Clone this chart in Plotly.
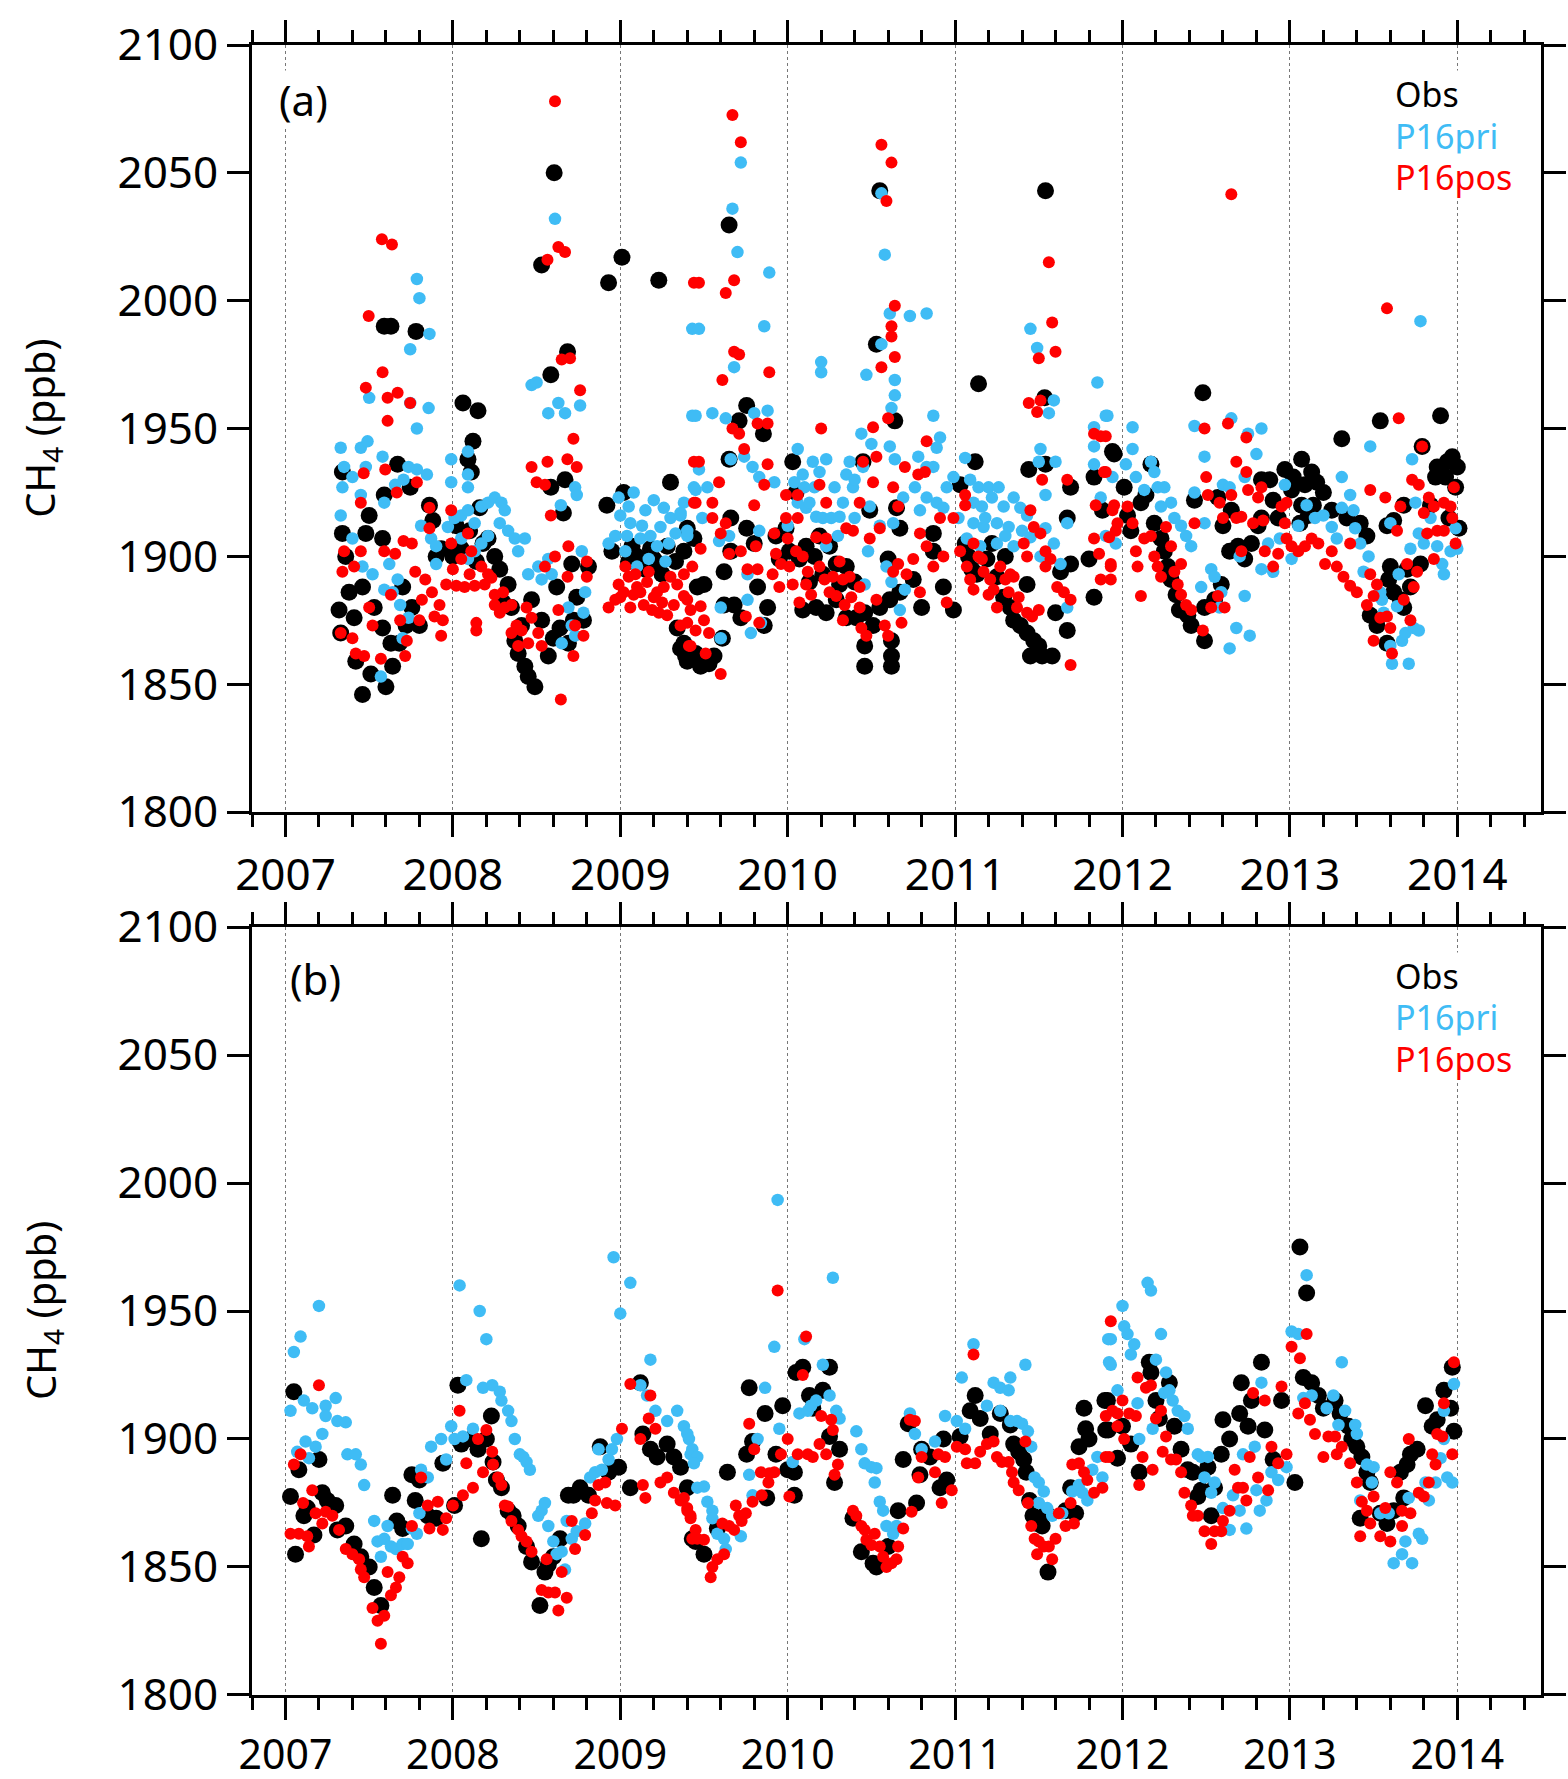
import plotly.graph_objects as go

# ---------------- Panel (a) data: (decimal year, CH4 ppb) ----------------
OBS_A = [
(2007.34,1933),(2007.34,1909),(2007.32,1879),(2007.33,1870),(2007.41,1876),(2007.46,1888),(2007.50,1916),(2007.48,1909),
(2007.46,1846),(2007.51,1854),(2007.60,1849),(2007.58,1872),(2007.64,1857),(2007.63,1866),(2007.42,1859),(2007.59,1990),
(2007.63,1990),(2007.78,1988),(2007.67,1936),(2007.59,1924),(2007.58,1907),(2007.745,1927),(2007.86,1920),(2007.88,1914),
(2007.80,1873),(2007.755,1880),(2007.70,1888),(2007.36,1900),(2007.38,1886),(2007.53,1880),(2007.68,1866),(2007.72,1873),
(2007.90,1900),(2008.06,1960),(2008.15,1957),(2008.12,1945),(2008.09,1938),(2008.11,1933),(2008.16,1919),(2007.93,1903),
(2008.00,1900),(2008.05,1903),(2008.21,1907),(2008.25,1900),(2008.28,1895),(2008.33,1889),(2008.35,1880),(2008.37,1867),
(2008.39,1862),(2008.43,1857),(2008.45,1853),(2008.49,1849),(2008.47,1883),(2008.53,1875),(2008.57,1861),(2008.53,2014),
(2008.605,2050),(2008.585,1971),(2008.685,1980),(2008.67,1930),(2008.585,1927),(2008.66,1917),(2008.71,1897),(2008.74,1884),
(2008.78,1875),(2008.62,1888),(2008.81,1896),(2008.93,2007),(2009.01,2017),(2009.23,2008),(2008.92,1920),(2009.02,1925),
(2008.95,1902),(2009.30,1929),(2009.40,1911),(2009.34,1872),(2009.36,1864),(2009.39,1861),(2009.10,1900),(2009.20,1899),
(2009.28,1904),(2009.38,1902),(2008.10,1910),(2008.14,1898),(2008.18,1905),(2008.02,1912),(2008.30,1882),(2008.41,1873),
(2008.60,1868),(2008.64,1872),(2008.69,1866),(2008.72,1875),(2009.05,1898),(2009.15,1895),(2009.25,1893),(2009.33,1898),
(2009.07,1904),(2009.13,1897),(2009.18,1903),(2009.23,1897),
(2009.65,2029.6),(2010.55,2043),(2011.54,2043),(2011.14,1967.5),(2010.53,1983),(2010.64,1953),(2009.755,1959),(2009.71,1953),
(2009.855,1948),(2009.65,1938),(2010.03,1937),(2010.45,1937),(2011.12,1937),(2011.54,1936),(2011.535,1962),(2011.44,1934),
(2011.94,1941),(2011.83,1931),(2011.69,1927),(2011.67,1915),(2011.69,1897),(2011.67,1871),(2011.83,1884),(2011.80,1899),
(2011.88,1918),(2009.44,1907),(2009.50,1889),(2009.62,1894),(2009.66,1902),(2009.46,1888),(2009.62,1881),(2009.68,1881),
(2009.72,1876),(2009.86,1873),(2009.88,1880),(2009.82,1888),(2009.38,1866),(2009.45,1862),(2009.48,1857),(2009.53,1858),
(2009.61,1868),(2009.56,1861),(2009.40,1859),(2009.66,1915),(2009.755,1911),(2009.80,1905),(2009.99,1911),(2009.93,1908),
(2010.01,1902),(2009.95,1899),(2010.07,1899),(2010.11,1904),(2010.19,1908),(2010.25,1904),(2010.29,1897),(2010.35,1896),
(2010.09,1879),(2010.17,1880),(2010.23,1878),(2010.29,1883),(2010.35,1876),(2010.41,1876),(2010.46,1878),(2010.55,1880),
(2010.61,1883),(2010.67,1886),(2010.46,1865),(2010.46,1857),(2010.62,1867),(2010.62,1861),(2010.62,1857),(2010.51,1873),
(2010.60,1899),(2010.65,1919),(2010.67,1911),(2010.75,1891),(2010.87,1909),(2010.93,1888),(2010.99,1879),(2011.03,1928),
(2010.49,1918),(2010.87,1902),(2010.13,1890),(2010.40,1890),(2010.80,1880),(2011.33,1880),(2011.35,1875),(2011.39,1873),
(2011.43,1870),(2011.47,1867),(2011.49,1862),(2011.52,1861),(2011.58,1861),(2011.45,1861),(2011.50,1865),(2011.29,1884),
(2011.25,1892),(2011.19,1899),(2011.43,1889),(2011.63,1894),(2011.06,1905),(2011.10,1895),(2011.30,1900),(2011.60,1878),
(2010.05,1925),(2010.16,1900),(2010.21,1893),(2010.31,1889),(2011.08,1900),(2011.13,1893),(2011.22,1905),
(2012.48,1964),(2013.54,1953),(2013.90,1955),(2013.31,1946),(2013.79,1943),(2011.95,1940),(2012.01,1927),(2012.17,1936),
(2012.43,1922),(2012.83,1930),(2012.88,1930),(2012.97,1934),(2013.07,1938),(2013.13,1933),(2013.09,1928),(2013.01,1926),
(2013.16,1929),(2013.07,1920),(2013.14,1920),(2013.06,1913),(2013.11,1916),(2012.93,1915),(2012.03,1916),(2012.11,1921),
(2012.19,1913),(2012.23,1907),(2012.25,1902),(2012.27,1896),(2012.29,1891),(2012.32,1885),(2012.34,1879),(2012.39,1877),
(2012.41,1873),(2012.49,1867),(2012.49,1880),(2012.55,1883),(2012.59,1889),(2012.60,1912),(2012.64,1902),(2012.69,1904),
(2012.73,1899),(2012.77,1905),(2012.81,1912),(2012.57,1923),(2012.65,1918),(2012.83,1915),(2013.34,1915),(2013.42,1913),
(2013.46,1908),(2013.58,1912),(2013.62,1914),(2013.68,1920),(2013.60,1896),(2013.59,1891),(2013.62,1886),(2013.66,1883),
(2013.68,1880),(2013.48,1877),(2013.52,1873),(2013.58,1866),(2013.78,1897),(2013.87,1931),(2013.88,1935),(2013.94,1937),
(2013.97,1939),(2014.00,1935),(2013.93,1931),(2013.99,1927),(2014.01,1911),(2013.72,1888),(2013.20,1925),(2013.25,1918),
(2012.05,1910),(2012.14,1924),(2012.90,1922),(2013.02,1931),(2013.84,1920),(2013.95,1915),(2013.70,1895),
]

PRI_A = [
(2007.33,1942.5),(2007.34,1927),(2007.33,1916),(2007.35,1935),(2007.40,1931),(2007.45,1942.5),(2007.49,1945),(2007.48,1935),
(2007.45,1924),(2007.40,1907),(2007.46,1896),(2007.52,1893),(2007.58,1939),(2007.50,1962),(2007.59,1921),(2007.62,1897),
(2007.59,1887),(2007.64,1886),(2007.67,1891),(2007.655,1928),(2007.705,1930),(2007.735,1935),(2007.785,1934),(2007.845,1932),
(2007.745,1981),(2007.785,2008.5),(2007.80,2001),(2007.86,1987),(2007.745,1960),(2007.855,1958),(2007.785,1950),(2007.81,1912),
(2007.87,1907),(2007.685,1881),(2007.70,1868),(2007.735,1876),(2007.57,1853),(2007.90,1904),(2007.90,1897),(2007.99,1938),
(2007.99,1929),(2008.09,1941),(2008.09,1932),(2008.09,1927),(2007.97,1911.5),(2008.01,1915),(2008.05,1916),(2008.09,1918),
(2008.13,1913),(2008.17,1919.5),(2008.21,1921),(2008.25,1923),(2008.29,1921),(2008.31,1918),(2008.28,1913),(2008.33,1910),
(2008.37,1907),(2008.39,1902),(2008.43,1907),(2008.21,1908),(2008.17,1905),(2008.13,1902),(2008.09,1899),(2008.05,1907),
(2008.45,1893),(2008.51,1896),(2008.53,1891),(2008.47,1967),(2008.50,1968),(2008.57,1956),(2008.63,1960),(2008.67,1956),
(2008.76,1959),(2008.61,2032),(2008.645,1920),(2008.73,1927),(2008.74,1924),(2008.57,1899),(2008.59,1893),(2008.69,1880),
(2008.65,1866),(2008.71,1873),(2008.73,1869),(2008.78,1878),(2008.79,1886),(2008.77,1902),(2008.93,1905),(2008.99,1923),
(2009.00,1916),(2009.05,1919.5),(2009.06,1913),(2008.97,1908),(2009.03,1902),(2009.12,1907),(2009.18,1908),(2009.24,1911.5),
(2009.30,1915),(2009.36,1916),(2009.29,1905),(2009.22,1904),(2009.40,1908),(2009.43,1989),(2009.43,1955),(2009.44,1927),
(2009.08,1925),(2009.15,1918),(2009.20,1922),(2009.27,1898),(2009.10,1896),
(2009.04,1908),(2009.13,1912),(2009.17,1899),(2009.26,1919),(2009.33,1909),(2009.38,1921),
(2009.72,2054),(2009.67,2036),(2009.70,2019),(2009.89,2011),(2009.47,1989),(2009.86,1990),(2009.68,1974),(2009.45,1955),
(2009.55,1956),(2009.63,1954),(2009.80,1956),(2009.88,1957),(2009.66,1938),(2009.47,1934),(2009.79,1935),(2009.83,1931),
(2009.74,1939),(2009.45,1926),(2009.52,1927),(2009.49,1915),(2009.59,1906),(2009.65,1908),(2009.76,1893),(2009.76,1883),
(2009.60,1880),(2009.60,1868),(2009.78,1870),(2009.84,1874),(2009.83,1910),(2009.36,1917),(2009.40,1910),(2009.92,1929),
(2010.06,1942),(2010.04,1929),(2010.15,1937),(2010.23,1938),(2010.16,1927),(2010.20,1976),(2010.20,1972),(2010.10,1927),
(2010.06,1921),(2010.11,1919),(2010.17,1915.5),(2010.21,1915),(2010.26,1915),(2010.31,1915.5),(2010.28,1927),(2010.35,1932),
(2010.37,1937),(2010.44,1948),(2010.47,1971),(2010.50,1944),(2010.61,1943),(2010.64,1938),(2010.64,1969),(2010.64,1963),
(2010.62,1958),(2010.61,1995),(2010.73,1994),(2010.83,1995),(2010.56,2042),(2010.58,2018),(2010.56,1983),(2010.45,1935),
(2010.39,1927),(2010.49,1919.5),(2010.63,1913),(2010.69,1923),(2010.76,1927),(2010.78,1939),(2010.83,1935),(2010.87,1955),
(2010.91,1946.5),(2010.89,1942.5),(2010.87,1935),(2010.83,1923),(2010.89,1921),(2010.95,1927),(2010.93,1919),(2010.79,1918),
(2010.48,1902),(2010.59,1896),(2010.62,1890),(2010.67,1879),(2010.70,1887),(2010.46,1889),(2010.23,1904),(2010.00,1912),
(2010.30,1908),(2010.55,1912),(2010.40,1915),(2010.09,1932),(2010.13,1921),(2010.19,1933),(2010.33,1921),(2010.40,1930),
(2011.06,1938.5),(2010.99,1931),(2011.14,1927),(2011.20,1927),(2011.26,1927),
(2011.11,1921),(2011.16,1919.5),(2011.22,1923),(2011.29,1919.5),(2011.35,1923),(2011.39,1919),(2011.43,1916),(2011.11,1913),
(2011.17,1911.5),(2011.25,1913),(2011.32,1911.5),(2011.07,1907),(2011.15,1904),(2011.25,1905),(2011.35,1904),(2011.45,1907.5),
(2011.54,1911),(2011.51,1900),(2011.59,1905),(2011.63,1897),(2011.67,1880),(2011.45,1989),(2011.49,1981.5),(2011.59,1961),
(2011.56,1956),(2011.51,1942),(2011.50,1937),(2011.54,1924),(2011.60,1937),(2011.67,1913),(2011.85,1968),(2011.90,1955),
(2011.83,1950.5),(2011.83,1943),(2011.83,1936),(2011.87,1923),(2011.94,1931),(2011.90,1908),(2011.96,1905),
(2011.02,1915),(2011.09,1930),(2011.18,1915),(2011.30,1908),(2011.40,1910),
(2013.78,1992),(2013.48,1943),(2012.06,1950.5),(2012.43,1951),(2012.49,1939),(2012.80,1940),(2012.83,1950),(2012.75,1948),
(2012.65,1954),(2012.06,1942),(2011.91,1955),(2012.02,1936),(2012.08,1931),(2012.17,1937),(2012.19,1933),(2012.13,1926),
(2012.21,1927),(2012.25,1927),(2012.29,1921),(2012.23,1919.5),(2012.31,1915),(2012.35,1912),(2012.38,1908),(2012.41,1904),
(2012.43,1925),(2012.49,1913),(2012.53,1895),(2012.47,1888),(2012.55,1892),(2012.59,1886),(2012.58,1880),(2012.60,1928),
(2012.64,1927),(2012.73,1931),(2012.68,1872),(2012.76,1869),(2012.64,1864),(2012.73,1884.5),(2012.83,1895),(2012.90,1894),
(2012.94,1907),(2012.97,1928),(2013.01,1899),(2013.15,1915),(2013.20,1916),(2013.25,1911.5),(2013.28,1907),(2013.31,1919),
(2013.36,1924),(2013.38,1918),(2013.39,1911),(2013.47,1900),(2013.44,1894),(2013.54,1886),(2013.55,1883),(2013.56,1878),
(2013.60,1865),(2013.61,1858),(2013.67,1867),(2013.69,1870),(2013.74,1872),(2013.77,1871),(2013.71,1858),(2013.64,1880.5),
(2013.65,1893),(2013.72,1903),(2013.73,1938),(2013.75,1921),(2013.77,1909),(2013.88,1904),(2013.91,1897),(2013.92,1893),
(2013.96,1902),(2013.99,1911),(2013.60,1913),(2013.31,1931),(2013.05,1912),(2013.10,1920),(2012.87,1905),(2012.70,1900),
(2013.42,1905),(2013.84,1915),(2013.80,1905),(2014.00,1903),
]

POS_A = [
(2008.61,2078),(2007.576,2024),(2007.636,2022),(2007.497,1994),(2007.58,1972),(2007.48,1966),(2007.61,1962),(2007.67,1964),
(2007.745,1960),(2007.61,1953),(2008.565,2016),(2008.63,2021),(2008.67,2019),(2008.65,1977),(2008.70,1977.5),(2008.76,1965),
(2008.72,1946),(2008.47,1935),(2008.565,1937),(2008.684,1938),(2008.74,1935),(2008.50,1929),(2008.55,1928),(2008.585,1916),
(2007.467,1932.5),(2007.596,1934),(2007.785,1929),(2007.665,1925),(2007.45,1921),(2007.99,1918),(2007.86,1919),(2007.86,1911),
(2007.35,1902),(2007.45,1902),(2007.59,1902),(2007.655,1901),(2007.34,1894),(2007.41,1896),(2007.705,1906),(2007.755,1905),
(2008.09,1909),(2007.99,1905),(2008.11,1902),(2008.05,1899),(2007.33,1870),(2007.40,1868),(2007.42,1862),(2007.47,1861),
(2007.57,1860),(2007.52,1873),(2007.50,1880),(2007.63,1885),(2007.685,1875),(2007.725,1867),(2007.715,1861),(2007.80,1875),
(2007.775,1894),(2007.835,1891),(2007.875,1886),(2007.92,1881),(2007.815,1883),(2007.89,1876.5),(2007.94,1875),(2007.93,1869),
(2007.96,1889),(2008.02,1888.5),(2008.07,1888),(2008.13,1888.5),(2008.19,1889),(2008.23,1891.6),(2008.25,1881),(2008.31,1880),
(2008.28,1878),(2008.35,1881),(2008.38,1873),(2008.41,1871),(2008.47,1876),(2008.51,1870),(2008.53,1865),(2008.14,1874),
(2008.14,1871),(2008.39,1865),(2008.63,1879),(2008.685,1892),(2008.80,1898),(2008.80,1892),(2008.73,1873),(2008.78,1869),
(2008.72,1861),(2008.645,1844),(2008.61,1900),(2008.69,1904),(2008.55,1896),(2008.21,1893),(2008.17,1896),(2008.00,1895),
(2008.10,1893),(2008.30,1886),(2008.44,1880),(2008.35,1870),(2008.25,1885),(2008.45,1866),
(2008.93,1880),(2008.97,1883),(2008.99,1889),(2009.05,1892),(2009.08,1885),(2009.14,1881),(2009.20,1884),(2009.26,1888),
(2009.32,1881),(2009.38,1884.5),(2009.42,1865),(2009.36,1873),(2009.44,2007),(2009.44,1937),(2009.44,1921),(2009.03,1896),
(2009.17,1894),(2009.10,1888),(2009.23,1878),(2009.00,1884),(2009.30,1892),
(2009.02,1886),(2009.06,1880),(2009.09,1893),(2009.12,1886),(2009.16,1890),(2009.19,1879),(2009.22,1886),(2009.25,1882),
(2009.28,1877),(2009.34,1889),
(2009.67,2072.6),(2009.72,2062),(2009.47,2007),(2009.68,2008),(2009.63,2003),(2009.68,1980),(2009.71,1979),(2009.61,1969),
(2009.89,1972),(2009.67,1950),(2009.71,1948),(2009.82,1952),(2009.88,1952),(2009.74,1942),(2009.47,1937),(2009.88,1936),
(2009.86,1928),(2009.80,1920),(2009.59,1929),(2009.45,1921),(2009.55,1921),(2009.55,1915),(2009.63,1913),(2009.60,1909),
(2009.48,1903),(2009.65,1901),(2009.72,1902),(2009.43,1896),(2009.38,1893),(2009.40,1883),(2009.42,1879),(2009.48,1880.5),
(2009.50,1875),(2009.40,1874),(2009.45,1871),(2009.53,1870),(2009.41,1865),(2009.51,1862),(2009.60,1854),(2009.75,1876.5),
(2009.76,1895),(2009.82,1895),(2009.83,1874),(2009.81,1904),(2009.91,1893),(2009.95,1888),(2009.99,1924),(2010.06,1924),
(2009.99,1915),(2010.06,1915),(2009.92,1909),(2010.00,1907),(2010.05,1902),(2009.93,1901),(2009.96,1897),(2010.01,1896),
(2010.03,1889),(2010.09,1900),(2010.12,1894),(2010.11,1889),(2010.17,1907.5),(2010.23,1907),(2010.19,1896),(2010.22,1891),
(2010.27,1892),(2010.33,1891),(2010.29,1884.5),(2010.34,1881),(2010.37,1892),(2010.43,1888),(2010.33,1875),(2010.43,1880),
(2010.44,1872),(2010.47,1869),(2010.53,1883),(2010.60,1869),(2010.58,1873),(2010.68,1874),(2010.66,1897),(2010.63,1894),
(2010.71,1893),(2010.75,1899),(2010.79,1886),(2010.87,1896),(2010.95,1882),(2010.93,1900),(2010.83,1904),(2010.91,1915),
(2010.79,1909),(2010.43,1921),(2010.35,1911),(2010.39,1910),(2010.49,1907),(2010.55,1911),(2010.23,1921),(2010.19,1928),
(2010.20,1950),(2010.45,1937),(2010.51,1929),(2010.51,1950.5),(2010.53,1939),(2010.56,1974),(2010.64,1978),(2010.62,1986),
(2010.62,1990),(2010.64,1998),(2010.56,2061),(2010.62,2054),(2010.59,2039),(2010.60,1954),(2010.63,1927),(2010.66,1919.5),
(2010.70,1935),(2010.78,1932),(2010.82,1933),(2010.83,1945),(2010.07,1882),(2010.14,1885),(2010.25,1886),(2010.31,1898),
(2010.38,1884),
(2010.99,1915),(2011.06,1924),(2011.06,1920),(2011.03,1902),
(2011.07,1896),(2011.11,1905),(2011.14,1900),(2011.09,1891),(2011.11,1887),(2011.17,1894),(2011.21,1891),(2011.23,1887),
(2011.27,1896),(2011.30,1891),(2011.32,1886),(2011.35,1892),(2011.38,1884),(2011.37,1880),(2011.43,1878),(2011.46,1876.5),
(2011.50,1879),(2011.45,1918),(2011.47,1911.5),(2011.41,1905),(2011.43,1900),(2011.51,1909),(2011.54,1902),(2011.57,1899),
(2011.54,1896),(2011.61,1888),(2011.65,1886),(2011.69,1883),(2011.69,1857.5),(2011.67,1930),(2011.52,1930),(2011.44,1960),
(2011.49,1956.5),(2011.50,1977.5),(2011.51,1961),(2011.56,2015),(2011.58,1991.5),(2011.60,1980),(2011.83,1948),(2011.87,1947),
(2011.84,1920),(2011.89,1933),(2011.83,1907),(2011.86,1901),(2011.93,1896),(2011.87,1891),(2011.94,1918),(2011.96,1910),
(2011.16,1899),(2011.20,1885),(2011.25,1880),(2011.33,1893),
(2012.65,2041.6),(2013.58,1997),(2013.65,1954),(2013.79,1943),(2012.49,1950),(2012.63,1952),(2012.74,1946.5),(2012.68,1937),
(2012.74,1933),(2012.50,1931),(2012.51,1924),(2011.90,1947),(2011.90,1933),(2011.95,1920),(2012.03,1919.5),(2011.97,1913),
(2011.92,1907.5),(2011.93,1897),(2011.93,1891),(2012.06,1913),(2012.08,1902),(2012.09,1896),(2012.11,1884.5),(2012.13,1907),
(2012.17,1908),(2012.19,1900),(2012.21,1896),(2012.23,1892),(2012.26,1911.5),(2012.29,1904),(2012.31,1894),(2012.33,1889),
(2012.35,1885),(2012.38,1881),(2012.41,1879),(2012.35,1897),(2012.43,1913),(2012.48,1871),(2012.53,1880),(2012.57,1884.5),
(2012.61,1880),(2012.58,1921),(2012.60,1915),(2012.65,1924),(2012.68,1915),(2012.71,1915.5),(2012.71,1902),(2012.75,1926),
(2012.78,1913),(2012.81,1923),(2012.84,1914),(2012.83,1927),(2012.85,1902),(2012.90,1896),(2012.93,1901),(2012.95,1919.5),
(2012.98,1921),(2012.97,1913),(2012.98,1907),(2013.01,1904),(2013.05,1902),(2013.09,1904),(2013.13,1907),(2013.17,1905),
(2013.21,1897),(2013.25,1902),(2013.28,1896),(2013.32,1892),(2013.36,1888.5),(2013.40,1886),(2013.46,1881),(2013.50,1884.5),
(2013.54,1876),(2013.58,1876.5),(2013.60,1872),(2013.61,1862),(2013.50,1867),(2013.36,1905),(2013.48,1926),(2013.57,1923),
(2013.66,1919.5),(2013.48,1893),(2013.52,1889),(2013.64,1910),(2013.70,1897),(2013.68,1883),(2013.72,1875),(2013.74,1888),
(2013.76,1894),(2013.73,1930),(2013.77,1928),(2013.83,1923),(2013.80,1917),(2013.82,1909),(2013.86,1919.5),(2013.88,1910),
(2013.92,1910),(2013.96,1919.5),(2013.98,1927),(2013.99,1905),(2013.97,1915),(2013.86,1899),(2013.92,1921),
]

# ---------------- Panel (b) data ----------------
OBS_B = [
(2007.05,1918.5),(2007.03,1877.5),(2007.06,1855),(2007.08,1888),(2007.11,1870),(2007.17,1862.5),(2007.20,1892),(2007.22,1879),
(2007.25,1876),(2007.30,1874),(2007.31,1864.5),(2007.36,1866),(2007.41,1859),(2007.45,1854),(2007.50,1850),(2007.53,1842),
(2007.57,1835),(2007.64,1878),(2007.665,1868),(2007.70,1865),(2007.755,1886),(2007.775,1876),(2007.80,1884),(2007.85,1870),
(2007.90,1869),(2007.94,1890.5),(2008.01,1874),(2008.03,1921),(2008.05,1898),(2008.11,1900),(2008.15,1896),(2008.17,1861),
(2008.20,1900),(2008.23,1909),(2008.24,1891),(2008.26,1884),(2008.29,1881),(2008.33,1872),(2008.36,1870),(2008.39,1866),
(2008.44,1858),(2008.52,1835),(2008.55,1848),(2008.57,1851),(2008.60,1854),(2008.64,1861),(2008.69,1878),(2008.72,1878),
(2008.76,1881),(2008.81,1878),(2008.88,1897),(2008.93,1887),(2008.99,1889),(2009.06,1881),(2009.12,1922),(2009.135,1902),
(2009.18,1896),(2009.22,1893),(2009.28,1898),(2009.36,1889),(2009.40,1881),(2009.43,1861),(2007.13,1873),(2008.47,1852),
(2009.32,1893),
(2009.77,1920),(2009.865,1910),(2009.97,1913),(2009.64,1887),(2009.79,1899),(2009.755,1894),(2009.875,1877),(2010.05,1926),
(2010.09,1928),(2010.25,1928),(2010.13,1917),(2010.21,1919),(2010.25,1901),(2010.28,1883),(2010.31,1896),(2010.04,1878),
(2010.04,1887),(2009.93,1894),(2010.00,1888),(2010.39,1869),(2010.44,1856),(2010.51,1851.5),(2010.53,1850),(2010.66,1872),
(2010.77,1875),(2010.69,1892),(2010.72,1906),(2010.79,1886),(2010.80,1896),(2010.93,1900),(2010.95,1884),(2010.91,1881),
(2011.03,1901),(2011.09,1911),(2011.12,1917),(2011.21,1902),(2011.33,1905.5),(2011.35,1898),(2011.38,1895),(2011.41,1892),
(2011.425,1887),(2011.445,1876),(2011.465,1870),(2011.49,1867),(2011.52,1866),(2011.545,1871),(2011.555,1848),(2011.66,1872),
(2011.72,1871),(2011.69,1881),(2011.74,1897),(2011.77,1912),(2011.78,1904),(2011.80,1900),(2011.90,1903.5),(2011.91,1915),
(2009.45,1860),(2009.50,1855),(2009.58,1865),(2010.60,1858),(2010.15,1912),(2011.15,1908),(2011.27,1910),(2010.85,1893),
(2013.06,1975),(2013.10,1957),(2012.83,1930),(2012.16,1930),(2013.03,1883),(2013.08,1924),(2013.13,1922),(2013.17,1917),
(2013.27,1915),(2013.30,1910),(2013.37,1900),(2013.40,1897),(2013.43,1893),(2013.46,1887),(2013.48,1883),(2013.42,1869),
(2013.54,1871),(2013.58,1867),(2013.66,1887),(2013.70,1890),(2013.72,1894),(2013.76,1896),(2013.68,1877),(2013.81,1913),
(2013.88,1907.5),(2013.92,1919),(2013.96,1912),(2013.98,1903),(2013.97,1928),(2012.71,1922),(2012.77,1915),(2012.70,1910),
(2012.85,1903.5),(2012.95,1915),(2012.60,1907.5),(2012.64,1900),(2012.59,1894),(2012.51,1889),(2012.55,1881),(2012.47,1880),
(2012.42,1887),(2012.39,1888),(2012.45,1877.5),(2012.53,1870),(2011.895,1915),(2011.915,1903.5),(2011.97,1892.5),(2012.10,1887),
(2012.17,1926),(2012.28,1922),(2012.31,1905),(2012.35,1896),(2012.00,1905),(2012.05,1898),(2012.20,1915),(2012.22,1908),
(2013.20,1912),(2013.35,1905),(2013.62,1872),(2013.85,1905),(2012.90,1892),(2012.75,1905),
]

PRI_B = [
(2007.05,1934),(2007.09,1940),(2007.20,1952),(2007.03,1911),(2007.11,1915),(2007.16,1912),(2007.24,1913),(2007.30,1916),
(2007.24,1909),(2007.22,1902),(2007.31,1907),(2007.36,1906.5),(2007.12,1899),(2007.18,1897),(2007.14,1892.5),(2007.07,1895),
(2007.37,1894),(2007.42,1894),(2007.45,1890),(2007.47,1882),(2007.53,1868),(2007.55,1860),(2007.61,1866),(2007.59,1861),
(2007.57,1854),(2007.63,1858),(2007.66,1857),(2007.70,1859),(2007.73,1859),(2007.755,1865),(2007.785,1863),(2007.80,1871),
(2007.81,1888),(2007.85,1885),(2007.87,1897),(2007.93,1900),(2007.96,1892),(2007.99,1905),(2008.01,1900),(2008.06,1901),
(2008.12,1904),(2008.08,1923),(2008.04,1960),(2008.16,1950),(2008.20,1939),(2008.18,1920),(2008.235,1921),(2008.28,1918.5),
(2008.29,1915),(2008.33,1911),(2008.35,1907),(2008.37,1900),(2008.40,1894),(2008.42,1893),(2008.44,1891),(2008.46,1888),
(2008.51,1870),(2008.53,1872),(2008.55,1875),(2008.57,1866),(2008.60,1860),(2008.62,1855),(2008.67,1849),(2008.65,1856),
(2008.68,1868),(2008.71,1861),(2008.74,1864),(2008.79,1867),(2008.82,1885),(2008.85,1887),(2008.89,1888),(2008.93,1892),
(2008.87,1896),(2008.95,1896),(2008.98,1900),(2008.96,1971),(2009.06,1961),(2009.00,1949),(2009.18,1931),(2009.12,1921),
(2009.16,1917),(2009.21,1911),(2009.28,1907),(2009.34,1911),(2009.38,1905),(2009.40,1902),(2009.42,1894),
(2009.94,1993.4),(2010.27,1963),(2009.92,1936),(2009.865,1920),(2009.41,1900),(2009.43,1896),(2009.46,1893),(2009.44,1890.5),
(2009.46,1881),(2009.50,1881.4),(2009.52,1875.5),(2009.55,1872),(2009.55,1869),(2009.58,1863),(2009.62,1861),(2009.63,1857),
(2009.72,1862),(2009.77,1886),(2009.82,1900),(2009.79,1878),(2009.95,1904),(2010.03,1891),(2010.07,1910),(2010.10,1939),
(2010.12,1911),(2010.14,1913),(2010.17,1915),(2010.21,1929),(2010.25,1917),(2010.29,1911),(2010.31,1908),(2010.41,1903),
(2010.44,1896),(2010.46,1890.5),(2010.50,1889),(2010.53,1888.6),(2010.52,1883),(2010.55,1875.5),(2010.57,1872),(2010.59,1866),
(2010.63,1863),(2010.65,1866),(2010.73,1910),(2010.76,1902),(2010.80,1896),(2010.88,1899),(2010.94,1909),(2011.01,1907),
(2011.06,1904),(2011.11,1937),(2011.04,1924),(2011.19,1913),(2011.23,1922),(2011.27,1920),(2011.32,1919),(2011.33,1924),
(2011.42,1929),(2011.27,1911),(2011.33,1907),(2011.37,1907),(2011.40,1906),(2011.435,1903),(2011.455,1897),(2011.475,1885),
(2011.50,1883),(2011.53,1879.5),(2011.50,1875),(2011.55,1873),(2011.58,1870),(2011.64,1871),(2011.70,1879.5),(2011.74,1882),
(2011.76,1879),(2011.79,1876),(2011.82,1888),(2011.85,1893),(2011.88,1885),(2011.92,1930),(2011.93,1939),
(2012.15,1961),(2012.17,1958),(2012.00,1952),(2012.01,1944),(2012.03,1941),(2011.915,1939),(2012.07,1937),(2012.05,1933),
(2011.93,1929),(2012.23,1941),(2011.97,1919),(2012.20,1931),(2012.26,1926),(2012.25,1918),(2012.28,1919),(2012.30,1915),
(2012.33,1911),(2012.37,1909),(2012.39,1904),(2012.09,1914),(2012.10,1900),(2012.18,1904),(2012.45,1894),(2012.47,1893),
(2012.51,1893),(2012.49,1885),(2012.55,1883),(2012.53,1879),(2012.60,1873),(2012.64,1864.5),(2012.66,1878),(2012.70,1872),
(2012.74,1865),(2012.72,1894),(2012.79,1897),(2012.80,1880),(2012.82,1872),(2012.86,1876),(2012.83,1922),(2012.89,1887),
(2012.93,1884),(2012.98,1889),(2013.01,1942),(2013.05,1941),(2013.10,1964),(2013.08,1916),(2013.13,1917),(2013.22,1912),
(2013.26,1917),(2013.31,1930),(2013.29,1905.5),(2013.33,1911),(2013.39,1905.5),(2013.40,1902),(2013.46,1890),(2013.50,1889),
(2013.49,1883),(2013.42,1876),(2013.54,1871),(2013.59,1871),(2013.62,1851.5),(2013.67,1855),(2013.69,1860),(2013.73,1851.5),
(2013.71,1877),(2013.77,1863),(2013.79,1861),(2013.83,1876),(2013.81,1883),(2013.87,1883),(2013.90,1892.5),(2013.92,1900),
(2013.92,1911),(2013.98,1921.5),(2013.94,1885),(2013.97,1883),
]

POS_B = [
(2007.20,1921),(2007.05,1890),(2007.09,1894),(2007.03,1863),(2007.08,1863),(2007.13,1862),(2007.14,1858),(2007.105,1875),
(2007.16,1880),(2007.18,1871),(2007.24,1871.6),(2007.22,1867),(2007.28,1870),(2007.32,1864.5),(2007.36,1857),(2007.40,1855),
(2007.44,1853),(2007.45,1849),(2007.47,1846),(2007.52,1834),(2007.55,1829),(2007.59,1831),(2007.57,1820),(2007.61,1848),
(2007.63,1839),(2007.66,1842),(2007.68,1846),(2007.70,1854),(2007.73,1851.5),(2007.755,1866),(2007.81,1885),(2007.85,1874),
(2007.86,1865),(2007.91,1875.5),(2007.94,1864.5),(2007.96,1869),(2008.00,1874),(2008.06,1878),(2008.04,1911),(2008.08,1890.5),
(2008.12,1881),(2008.15,1900),(2008.18,1887),(2008.20,1903.5),(2008.235,1895),(2008.24,1890),(2008.27,1885),(2008.29,1882),
(2008.31,1874),(2008.33,1873.6),(2008.35,1868),(2008.39,1864.5),(2008.41,1862),(2008.44,1860),(2008.47,1856),(2008.56,1853),
(2008.53,1841),(2008.57,1840),(2008.61,1840),(2008.63,1833),(2008.68,1838),(2008.65,1848),(2008.71,1868),(2008.73,1857),
(2008.79,1862.5),(2008.83,1871),(2008.85,1876),(2008.91,1883),(2008.87,1882),(2008.92,1875),(2008.97,1874),(2009.01,1904),
(2009.06,1921.5),(2009.12,1900),(2009.135,1882),(2009.15,1877),(2009.18,1917),(2009.17,1908),(2009.21,1904),(2009.24,1883),
(2009.28,1885),(2009.32,1879),(2009.36,1876),(2009.40,1873),(2009.42,1870),(2009.43,1861),
(2009.94,1958),(2010.11,1940),(2010.09,1925),(2009.77,1906),(2009.80,1896),(2009.84,1887),(2009.89,1886.6),(2009.885,1883),
(2009.92,1887),(2009.96,1894),(2010.00,1900),(2010.06,1894),(2010.12,1894),(2010.15,1893),(2010.19,1898),(2010.23,1894),
(2010.20,1909),(2010.26,1907.5),(2010.27,1903.5),(2010.30,1890),(2010.28,1886),(2010.01,1877.5),(2009.845,1878),(2009.79,1875.5),
(2009.75,1871),(2009.71,1870),(2009.725,1868),(2009.68,1864.5),(2009.65,1866),(2009.61,1867),(2009.62,1855),(2009.58,1853),
(2009.55,1850),(2009.54,1846),(2009.45,1864.5),(2009.46,1861),(2009.50,1860.6),(2009.42,1869),(2009.40,1872),(2009.38,1877),
(2009.69,1874),(2010.39,1872),(2010.41,1870),(2010.44,1866),(2010.46,1864.5),(2010.47,1860.6),(2010.50,1858.6),(2010.52,1863),
(2010.55,1858),(2010.57,1854),(2010.59,1850),(2010.62,1851.5),(2010.65,1853),(2010.66,1858),(2010.69,1865),(2010.74,1871.6),
(2010.73,1907.5),(2010.76,1907),(2010.80,1893),(2010.78,1885),(2010.88,1887),(2010.92,1875),(2010.90,1894),(2010.94,1893),
(2010.98,1880),(2011.01,1897),(2011.06,1896),(2011.07,1890.5),(2011.11,1933),(2011.12,1890.5),(2011.15,1895),(2011.19,1898),
(2011.23,1899),(2011.25,1893),(2011.28,1891),(2011.32,1891),(2011.34,1887),(2011.35,1883),(2011.38,1880),(2011.42,1899),
(2011.435,1875),(2011.455,1866),(2011.475,1861),(2011.50,1860),(2011.53,1858),(2011.56,1858),(2011.58,1853),(2011.60,1861),
(2011.49,1855),(2011.62,1871),(2011.66,1866),(2011.71,1867),(2011.69,1875),(2011.70,1890),(2011.74,1890.5),(2011.77,1887),
(2011.79,1884),(2011.83,1879),(2011.88,1881),(2011.90,1893),(2011.90,1909),(2011.93,1946),(2011.94,1911),
(2012.09,1924),(2012.14,1920),(2012.17,1921),(2012.00,1915),(2011.97,1910),(2012.04,1910),(2012.08,1909),(2011.97,1905),
(2011.92,1893),(2012.01,1900),(2012.12,1893),(2012.18,1888),(2012.10,1882),(2012.20,1908),(2012.23,1911),(2012.26,1901),
(2012.24,1895),(2012.29,1892),(2012.32,1892),(2012.35,1887),(2012.37,1879),(2012.41,1874),(2012.42,1870),(2012.45,1870),
(2012.49,1864),(2012.53,1859),(2012.55,1864),(2012.59,1864),(2012.60,1868),(2012.64,1872),(2012.67,1888),(2012.69,1881),
(2012.72,1881),(2012.74,1876),(2012.76,1893),(2012.78,1918),(2012.81,1885),(2012.85,1915),(2012.87,1880),(2012.89,1897),
(2012.93,1890.5),(2012.95,1920.5),(2012.98,1894),(2013.01,1936),(2013.06,1931.5),(2013.10,1941),(2013.05,1910),(2013.09,1914),
(2013.12,1907.5),(2013.15,1902),(2013.20,1893),(2013.23,1901),(2013.27,1901),(2013.28,1894),(2013.31,1897),(2013.36,1890.5),
(2013.40,1883),(2013.43,1875.5),(2013.46,1872),(2013.48,1867),(2013.42,1862),(2013.50,1877.5),(2013.54,1862),(2013.57,1873),
(2013.60,1860),(2013.60,1887),(2013.64,1883),(2013.67,1872),(2013.67,1866),(2013.72,1871),(2013.71,1900),(2013.77,1879),
(2013.80,1877.5),(2013.83,1883),(2013.85,1894),(2013.87,1890),(2013.88,1902),(2013.91,1901),(2013.92,1914),(2013.97,1894),
(2013.98,1930),
]

SERIES_NAMES = ["Obs", "P16pri", "P16pos"]
SERIES_COLORS = ["#000000", "#3fbcf5", "#ff0000"]
MARKER_SIZES = [17, 12.5, 12]
PANEL_LABELS = ["(a)", "(b)"]
Y_TICKS = [1800, 1850, 1900, 1950, 2000, 2050, 2100]
X_TICKS = [2007, 2008, 2009, 2010, 2011, 2012, 2013, 2014]

panels = [(OBS_A, PRI_A, POS_A), (OBS_B, PRI_B, POS_B)]

fig = go.Figure()
FONT = "Noto Sans"

for p, series in enumerate(panels):
    xa = "x" if p == 0 else "x2"
    ya = "y" if p == 0 else "y2"
    for s, data in enumerate(series):
        fig.add_trace(go.Scatter(
            x=[d[0] for d in data], y=[d[1] for d in data],
            mode="markers", name=SERIES_NAMES[s], showlegend=False,
            marker=dict(color=SERIES_COLORS[s], size=MARKER_SIZES[s], line=dict(width=0)),
            xaxis=xa, yaxis=ya, cliponaxis=True,
        ))

def xaxis_style(fsize):
    return dict(
        range=[2006.8, 2014.5], tickmode="array", tickvals=X_TICKS,
        ticks="outside", ticklen=22, tickwidth=3, tickcolor="black",
        showline=True, linewidth=3, linecolor="black", mirror="ticks",
        showgrid=True, gridcolor="#777777", gridwidth=1, griddash="dot",
        zeroline=False, automargin=False,
        minor=dict(dtick=0.2, tick0=2007, ticks="outside", ticklen=12, tickwidth=3, tickcolor="black", showgrid=False),
        tickfont=dict(family=FONT, size=fsize, color="black"),
    )

ycommon = dict(
    range=[1800, 2100], tickmode="array", tickvals=Y_TICKS,
    ticks="outside", ticklen=22, tickwidth=3, tickcolor="black",
    showline=True, linewidth=3, linecolor="black", mirror="ticks",
    showgrid=False, zeroline=False, automargin=False,
    tickfont=dict(family=FONT, size=44, color="black"),
)

fig.update_layout(
    width=1568, height=1779,
    margin=dict(l=252, r=27, t=45, b=84, autoexpand=False),
    paper_bgcolor="white", plot_bgcolor="white",
    xaxis=dict(domain=[0, 1], anchor="y", **xaxis_style(44)),
    yaxis=dict(domain=[0.5351, 1], anchor="x", **ycommon),
    xaxis2=dict(domain=[0, 1], anchor="y2", **xaxis_style(41)),
    yaxis2=dict(domain=[0, 0.46545], anchor="x2", **ycommon),
)

ann = []
panel_pos = [(0.0403, 0.9667), (0.0489, 0.4345)]
legend_y = [[0.9703, 0.9448, 0.9200], [0.4358, 0.4109, 0.3855]]
ytitle_y = [0.768, 0.2333]
for p in range(2):
    ann.append(dict(text=PANEL_LABELS[p], xref="paper", yref="paper", x=panel_pos[p][0], y=panel_pos[p][1],
                    xanchor="center", yanchor="middle", showarrow=False, bgcolor="white", borderpad=0,
                    font=dict(family=FONT, size=42, color="black")))
    for s in range(3):
        ann.append(dict(text=SERIES_NAMES[s], xref="paper", yref="paper", x=0.886, y=legend_y[p][s],
                        xanchor="left", yanchor="middle", showarrow=False, bgcolor="white", borderpad=0,
                        font=dict(family=FONT, size=34, color=SERIES_COLORS[s])))
    ann.append(dict(text="CH<sub>4</sub> (ppb)", xref="paper", yref="paper", x=-0.163, y=ytitle_y[p],
                    xanchor="center", yanchor="middle", showarrow=False, textangle=-90,
                    font=dict(family=FONT, size=40, color="black")))
fig.update_layout(annotations=ann)

fig.write_html("out.html")
